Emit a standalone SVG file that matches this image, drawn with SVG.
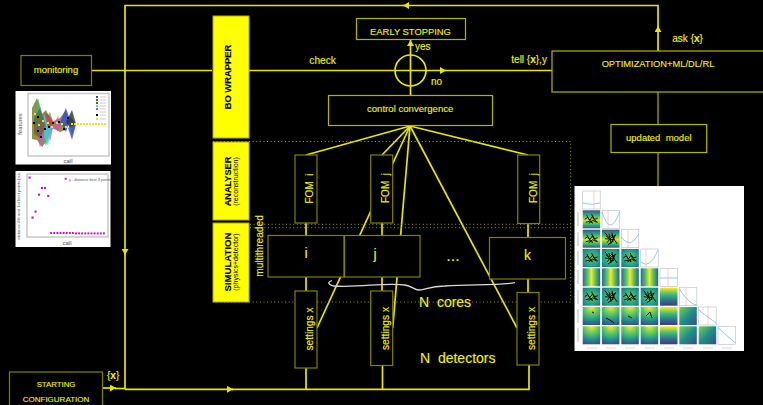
<svg xmlns="http://www.w3.org/2000/svg" width="763" height="405" viewBox="0 0 763 405">
<style>
text{font-family:"Liberation Sans",Arial,sans-serif;fill:#f2f200;stroke:#f2f200;stroke-width:.12;white-space:pre}
.c{text-anchor:middle}
.b{font-weight:bold}
.blk{fill:#000;stroke:#000;font-weight:bold}
.sub{fill:#000;stroke:none;font-size:7px}
.bar{fill:#ffff00;stroke:#b0b000;stroke-width:1}
.box{fill:#000;stroke:#808000;stroke-width:1.2}
.hi{stroke:#b4b400}
.ln{stroke:#e6e600;stroke-width:1.7;fill:none}
.dim{stroke:#8c8c00;stroke-width:1.5;fill:none}
.dot{stroke:#a0a000;stroke-width:1;stroke-dasharray:1 2.6;fill:none}
.pt{fill:#c020c0}
.gr{fill:none;stroke:#c4c4c4;stroke-width:1.4}
.dg{fill:#fff;stroke:#bbb;stroke-width:.6}
.cv{fill:none;stroke:#70b0e0;stroke-width:.7}
.sc{fill:none;stroke:#000;stroke-width:.9}
.pl{font-size:6px;fill:#555;stroke:none}
</style>
<defs>
<marker id="ah" markerUnits="userSpaceOnUse" markerWidth="7" markerHeight="7" refX="6" refY="3.5" orient="auto"><path d="M0 0L6 3.5L0 7Z" fill="#e6e600"/></marker>
<filter id="soft" x="-5%" y="-5%" width="110%" height="110%"><feGaussianBlur stdDeviation="0.4"/></filter>
<linearGradient id="vb" x1="0" x2="1" y1="0" y2="0"><stop offset="0" stop-color="#2a6f8e"/><stop offset=".3" stop-color="#5ec962"/><stop offset=".5" stop-color="#fde725"/><stop offset=".7" stop-color="#5ec962"/><stop offset="1" stop-color="#2c5f8e"/></linearGradient>
<linearGradient id="hb" x1="0" x2="0" y1="0" y2="1"><stop offset="0" stop-color="#3b528b"/><stop offset=".3" stop-color="#35b779"/><stop offset=".55" stop-color="#d8e219"/><stop offset=".8" stop-color="#35b779"/><stop offset="1" stop-color="#3b528b"/></linearGradient>
<linearGradient id="td" x1="0" x2="0" y1="0" y2="1"><stop offset="0" stop-color="#fde725"/><stop offset=".4" stop-color="#35b779"/><stop offset=".75" stop-color="#31688e"/><stop offset="1" stop-color="#443a83"/></linearGradient>
<radialGradient id="rg" cx=".5" cy="0" r="1"><stop offset="0" stop-color="#fde725"/><stop offset=".4" stop-color="#5ec962"/><stop offset=".75" stop-color="#21918c"/><stop offset="1" stop-color="#3b528b"/></radialGradient>
<radialGradient id="rd" cx=".5" cy=".5" r=".8"><stop offset="0" stop-color="#7ad151"/><stop offset=".55" stop-color="#1f9e89"/><stop offset="1" stop-color="#34508d"/></radialGradient>
<linearGradient id="dg" x1="0" x2="1" y1="0" y2="1"><stop offset="0" stop-color="#7ad151"/><stop offset=".5" stop-color="#1f8e89"/><stop offset="1" stop-color="#3e4989"/></linearGradient>
<path id="s1" class="sc" d="M2 9l3-2 2 3 3-4 2 3 3-1M4 5l3 5 3 2M6 13l4-3 4 2M3 12l4-1 3 2M9 4l2 5 4 3"/>
<path id="s2" class="sc" d="M3 3l4 5 3-3 3 6 2 3M5 13l4-5 5-3M7 4l2 10M3 9l9 1M4 6l6 6 3-6M6 15l6-4M10 3l1 6"/>
</defs>
<rect width="763" height="405" fill="#000"/>

<g id="connectors">
<line class="ln" x1="658" y1="51" x2="658" y2="26" marker-end="url(#ah)"/>
<line class="ln" x1="658" y1="27" x2="658" y2="5.5"/>
<line class="ln" x1="658.8" y1="5.5" x2="403" y2="5.5" marker-end="url(#ah)"/>
<line class="ln" x1="404" y1="5.5" x2="124.5" y2="5.5"/>
<line class="ln" x1="125" y1="5" x2="125" y2="255" marker-end="url(#ah)"/>
<line class="ln" x1="125" y1="254" x2="125" y2="389.5"/>
<line class="ln" x1="102" y1="388" x2="116" y2="388" marker-end="url(#ah)"/>
<line class="ln" x1="115" y1="388.5" x2="125" y2="388.5"/>
<line class="ln" x1="125" y1="389.3" x2="233" y2="389.3" marker-end="url(#ah)"/>
<path class="ln" d="M232 389.3H529V365"/>
<line class="ln" x1="91" y1="70.5" x2="212" y2="70.5"/>
<line class="ln" x1="249" y1="70.5" x2="446" y2="70.5" marker-end="url(#ah)"/>
<line class="ln" x1="445" y1="70.5" x2="552" y2="70.5"/>
<line class="ln" x1="410.5" y1="95.5" x2="410.5" y2="40" marker-end="url(#ah)"/>
<path class="dim" d="M658 92V124.5M658 152.5V186"/>
<line class="ln" x1="410" y1="126" x2="306" y2="155"/>
<line class="ln" x1="410" y1="126" x2="382" y2="155"/>
<line class="ln" x1="410" y1="126" x2="317" y2="328"/>
<line class="ln" x1="410" y1="126" x2="392.7" y2="328"/>
<line class="ln" x1="410" y1="126" x2="517" y2="328"/>
<line class="ln" x1="410" y1="126" x2="528" y2="155"/>
<path class="ln" d="M306 223V235M306 277V291M306 368V389M382 223V235M382 277V291M382.5 365V389M528 223V237M528 279V292"/>
<path class="dot" d="M213 141.5H570.7V302H213M250 224.3H570.7M250 227.7H570.7"/>
</g>

<g id="monitoring"><rect class="box" x="21" y="55.5" width="70.5" height="30"/><text class="c" x="56" y="73" font-size="9.5">monitoring</text></g>
<g id="starting-configuration"><rect class="box" x="9.5" y="372" width="93" height="40"/><text class="c" x="56" y="386.5" font-size="7.8">STARTING</text><text class="c" x="56" y="401.5" font-size="8">CONFIGURATION</text></g>
<g id="x-label"><text x="107" y="379" font-size="10">{<tspan class="b">x</tspan>}</text></g>

<g id="bo-wrapper"><rect class="bar" x="213" y="16" width="36" height="122"/><text class="c blk" transform="translate(230.5 77) rotate(-90)" font-size="9.4">BO WRAPPER</text></g>
<g id="analyser"><rect class="bar" x="213" y="142" width="36" height="78"/><text class="c blk" transform="translate(230.5 181.5) rotate(-90)" font-size="9.2">ANALYSER</text><text class="c sub" transform="translate(238 181.5) rotate(-90)">(reconstruction)</text></g>
<g id="simulation"><rect class="bar" x="213" y="223" width="36" height="79"/><text class="c blk" transform="translate(230.5 262) rotate(-90)" font-size="9.6">SIMULATION</text><text class="c sub" transform="translate(238 262) rotate(-90)">(physics+detector)</text></g>
<g id="multithreaded"><text class="c" transform="translate(262.5 246) rotate(-90)" font-size="10.2">multithreaded</text></g>

<g id="early-stopping"><rect class="box hi" x="356.5" y="18.5" width="109" height="21"/><text class="c" x="410.5" y="35" font-size="9.4">EARLY STOPPING</text></g>
<g id="check-node"><circle class="ln" cx="410.5" cy="70.5" r="15.5"/></g>
<g id="labels">
<text x="309.3" y="63.5" font-size="10.2">check</text>
<text x="415" y="50" font-size="10">yes</text>
<text x="431" y="85" font-size="10">no</text>
<text x="511.3" y="62.7" font-size="10">tell {<tspan class="b">x</tspan>},y</text>
<text x="672.3" y="41.7" font-size="10">ask {<tspan class="b">x</tspan>}</text>
</g>
<g id="control-convergence"><rect class="box hi" x="328.5" y="95.5" width="164" height="30"/><text class="c" x="410.2" y="112.3" font-size="9.6">control convergence</text></g>

<g id="fom-i"><rect class="box" x="295" y="155" width="22" height="68"/><text class="c" transform="translate(313.3 188.5) rotate(-90)" font-size="10">FOM  i</text></g>
<g id="fom-j"><rect class="box" x="370.7" y="155" width="22" height="68"/><text class="c" transform="translate(389 188) rotate(-90)" font-size="10">FOM  j</text></g>
<g id="fom-k"><rect class="box" x="517.7" y="155" width="22" height="68.5"/><text class="c" transform="translate(536.7 188) rotate(-90)" font-size="10">FOM  j</text></g>

<g id="sim-i"><rect class="box" x="268" y="235.5" width="76" height="41.5"/><text class="c" x="306" y="258" font-size="14">i</text></g>
<g id="sim-j"><rect class="box" x="344.5" y="235.5" width="75.5" height="41.5"/><text class="c" x="375" y="259" font-size="14">j</text></g>
<g id="sim-k"><rect class="box" x="489.5" y="237.5" width="76" height="41.5"/><text class="c" x="527.5" y="260" font-size="14">k</text></g>
<g id="ellipsis"><text class="c" x="453" y="261" font-size="16">...</text></g>

<g id="settings-i"><rect class="box" x="295" y="291" width="22" height="77"/><text class="c" transform="translate(313.3 329) rotate(-90)" font-size="10.2">settings x</text></g>
<g id="settings-j"><rect class="box" x="370.7" y="291" width="22" height="74.5"/><text class="c" transform="translate(389 328.5) rotate(-90)" font-size="10.2">settings x</text></g>
<g id="settings-k"><rect class="box" x="517" y="292.5" width="22" height="72.5"/><text class="c" transform="translate(535 328.5) rotate(-90)" font-size="10.2">settings x</text></g>

<g id="cores-brace"><path d="M332 280.5Q325 283 333 286C360 288 385 282 405 285C412 286 414 290 419 290C424 290 430 286 445 286C470 284 495 286 515 282.7" fill="none" stroke="#d8d8d8" stroke-width="1.3"/></g>
<g id="n-labels"><text x="419" y="306.7" font-size="14">N  cores</text><text x="420" y="362.7" font-size="14">N  detectors</text></g>

<g id="optimization"><rect class="box hi" x="552" y="51" width="215" height="41"/><text class="c" x="658" y="66.7" font-size="9.3">OPTIMIZATION+ML/DL/RL</text></g>
<g id="updated-model"><rect class="box hi" x="611" y="124.5" width="95.7" height="28"/><text class="c" x="658.8" y="140.7" font-size="9.5">updated  model</text></g>

<g id="features-plot">
<rect x="15.5" y="91" width="95.5" height="73.5" fill="#fff"/>
<rect x="28" y="93.5" width="81" height="62.5" class="gr"/>
<g filter="url(#soft)">
<path d="M32 108L37 98L42 114L46 110L52 122L60 118L66 110L72 136L76 124L70 116L66 130L60 132L52 128L46 142L42 147L37 140L32 139Z" fill="#7f7f20" opacity=".85"/>
<path d="M34 120L38 98L44 120L50 112L54 124L46 146L40 132Z" fill="#40b090" opacity=".7"/>
<path d="M36 128L40 148L46 126L50 142L54 124L44 114Z" fill="#e040e0" opacity=".7"/>
<path d="M44 112L52 126L48 146L44 136Z" fill="#30e0e0" opacity=".7"/>
<path d="M44 112L50 116L54 124L48 128Z" fill="#e03020" opacity=".75"/>
<path d="M34 118L40 108L46 126L40 138L34 134Z" fill="#5a5a20" opacity=".6"/>
<path d="M54 124L58 116L60 124L58 132Z" fill="#e040e0" opacity=".75"/>
<path d="M60 122L66 108L70 120L66 132Z" fill="#3050e0" opacity=".8"/>
<path d="M66 122L72 110L76 124L70 128Z" fill="#303030" opacity=".8"/>
<path d="M68 128L72 140L76 124Z" fill="#3050e0" opacity=".8"/>
<path d="M33 122h2v2h-2zM37 116h2v2h-2zM37 130h2v2h-2zM40 136h2v2h-2zM44 128h2v2h-2zM48 126h2v2h-2zM52 122h2v2h-2zM58 121h2v2h-2zM63 128h2v2h-2zM67 117h2v2h-2z" fill="#000"/>
<path d="M34 113h2v2h-2zM38 124h2v2h-2zM42 120h2v2h-2zM47 122h2v2h-2zM51 126h2v2h-2zM56 122h2v2h-2zM61 123h2v2h-2zM65 126h2v2h-2zM71 123h2v2h-2zM74 123h2v2h-2zM77 123h2v2h-2zM80 123h2v2h-2zM83 123h2v2h-2zM86 123h2v2h-2zM89 123h2v2h-2zM92 123h2v2h-2zM95 123h2v2h-2zM98 123h2v2h-2zM101 123h2v2h-2zM104 123h2v2h-2z" fill="#e8e820"/>
<path d="M96 96h2v2h-2z" fill="#3040e0"/><path d="M96 99h2v2h-2z" fill="#e02020"/><path d="M96 102h2v2h-2z" fill="#208020"/><path d="M96 105h2v2h-2z" fill="#30e0e0"/><path d="M96 108h2v2h-2z" fill="#e030e0"/><path d="M96 114h2v2h-2z" fill="#000"/><path d="M96 118h2v2h-2z" fill="#e8e820"/>
<path d="M100 97h6M100 100h6M100 103h6M100 106h6M100 109h6M100 112h6M100 115h6M100 119h6" stroke="#aaa" stroke-width=".6"/>
</g>
<text class="pl c" transform="translate(21.5 124) rotate(-90)">features</text>
<text class="pl c" x="68" y="162.5">call</text>
</g>

<g id="distance-plot">
<rect x="15.5" y="171" width="95" height="76" fill="#fff"/>
<rect x="27" y="174" width="81" height="63" class="gr"/>
<g class="pt">
<rect x="28.5" y="176.5" width="2.2" height="2.2"/><rect x="31.5" y="216.5" width="2.2" height="2.2"/><rect x="34.5" y="210.5" width="2.2" height="2.2"/><rect x="37.9" y="193.6" width="2.2" height="2.2"/><rect x="40.9" y="186.9" width="2.2" height="2.2"/><rect x="43.9" y="186.9" width="2.2" height="2.2"/><rect x="47.2" y="194.9" width="2.2" height="2.2"/>
<rect x="50.2" y="232" width="2" height="2"/><rect x="53.3" y="232" width="2" height="2"/><rect x="56.4" y="232" width="2" height="2"/><rect x="59.5" y="232" width="2" height="2"/><rect x="62.6" y="232" width="2" height="2"/><rect x="65.7" y="232" width="2" height="2"/><rect x="68.8" y="232" width="2" height="2"/><rect x="71.9" y="232" width="2" height="2"/><rect x="75" y="232.4" width="2" height="2"/><rect x="78.1" y="232.4" width="2" height="2"/><rect x="81.2" y="232.4" width="2" height="2"/><rect x="84.3" y="232.4" width="2" height="2"/><rect x="87.4" y="232.4" width="2" height="2"/><rect x="90.5" y="232.4" width="2" height="2"/><rect x="93.6" y="232.4" width="2" height="2"/><rect x="96.7" y="232.4" width="2" height="2"/><rect x="99.8" y="232.4" width="2" height="2"/><rect x="102.9" y="232.4" width="2" height="2"/>
<rect x="64.7" y="177.8" width="2" height="2"/>
</g>
<text class="pl c" style="font-size:4.2px" transform="translate(20 205) rotate(-90)">distance 4th and 1st best points [a.u.]</text>
<text class="pl" style="font-size:3.8px" x="69" y="180.5">y - distance best 4 points</text>
<text class="pl c" x="67" y="245">call</text>
</g>

<g id="corner-plot">
<rect x="574.5" y="186" width="169.5" height="165" fill="#fff"/>
<g filter="url(#soft)">
<g class="dg">
<rect x="582.7" y="191" width="17.5" height="18"/><rect x="602" y="210.3" width="17.5" height="18"/><rect x="621.3" y="229.7" width="17.5" height="18"/><rect x="640.7" y="249" width="17.5" height="18"/><rect x="660" y="268.3" width="17.5" height="18"/><rect x="679.3" y="287.7" width="17.5" height="18"/><rect x="698.7" y="307" width="17.5" height="18"/><rect x="718" y="326.3" width="17.5" height="18"/>
</g>
<path class="cv" d="M582.7 203Q592 206 600 203M602 212Q610 238 619.5 212M621.3 237Q630 250 638.8 234M640.7 262Q650 270 658 250M660 278H677.5M679.3 289Q690 305 696.8 305M698.7 310L716 323M718 328L735.5 343"/>
<path d="M594 191v18M608 210v18M628 230v18M646 249v18M668 268v18M686 288v18M708 307v18" stroke="#e8a0a0" stroke-width=".5"/>
<g fill="url(#hb)"><rect x="582.7" y="210.3" width="17.5" height="18"/><rect x="582.7" y="229.7" width="17.5" height="18"/><rect x="602" y="229.7" width="17.5" height="18"/></g>
<g fill="url(#rd)"><rect x="582.7" y="249" width="17.5" height="18"/><rect x="602" y="249" width="17.5" height="18"/><rect x="621.3" y="249" width="17.5" height="18"/></g>
<g fill="url(#vb)"><rect x="582.7" y="268.3" width="17.5" height="18"/><rect x="602" y="268.3" width="17.5" height="18"/><rect x="621.3" y="268.3" width="17.5" height="18"/><rect x="640.7" y="268.3" width="17.5" height="18"/></g>
<g fill="url(#rd)"><rect x="582.7" y="287.7" width="17.5" height="18"/><rect x="602" y="287.7" width="17.5" height="18"/><rect x="621.3" y="287.7" width="17.5" height="18"/><rect x="640.7" y="287.7" width="17.5" height="18"/></g>
<g fill="url(#td)"><rect x="660" y="287.7" width="17.5" height="18"/><rect x="660" y="307" width="17.5" height="18"/><rect x="660" y="326.3" width="17.5" height="18"/></g>
<g fill="url(#rg)"><rect x="582.7" y="307" width="17.5" height="18"/><rect x="602" y="307" width="17.5" height="18"/><rect x="621.3" y="307" width="17.5" height="18"/><rect x="640.7" y="307" width="17.5" height="18"/><rect x="582.7" y="326.3" width="17.5" height="18"/><rect x="602" y="326.3" width="17.5" height="18"/><rect x="621.3" y="326.3" width="17.5" height="18"/><rect x="640.7" y="326.3" width="17.5" height="18"/></g>
<g fill="url(#dg)"><rect x="679.3" y="307" width="17.5" height="18"/><rect x="679.3" y="326.3" width="17.5" height="18"/><rect x="698.7" y="326.3" width="17.5" height="18"/></g>
<use href="#s1" x="582.7" y="210.3"/><use href="#s1" x="582.7" y="229.7"/><use href="#s2" x="602" y="229.7"/>
<use href="#s1" x="582.7" y="249"/><use href="#s2" x="602" y="249"/><use href="#s1" x="621.3" y="249"/>
<use href="#s1" x="582.7" y="287.7"/><use href="#s2" x="602" y="287.7"/><use href="#s1" x="621.3" y="287.7"/><use href="#s2" x="640.7" y="287.7"/>
<path d="M606 318l4 2 4 3M628 316l4 2M646 316l4-4 2 6M592 312l2 1" class="sc"/>
<path d="M587 348h10M606 348h10M625 348h10M645 348h10M664 348h10M683 348h10M703 348h10M722 348h10" stroke="#bbb" stroke-width=".6" fill="none"/>
<path d="M578 212v14M578 232v14M578 251v14M578 270v14M578 290v14M578 309v14M578 328v14" stroke="#bbb" stroke-width="1" fill="none"/>
</g>
</g>
</svg>
